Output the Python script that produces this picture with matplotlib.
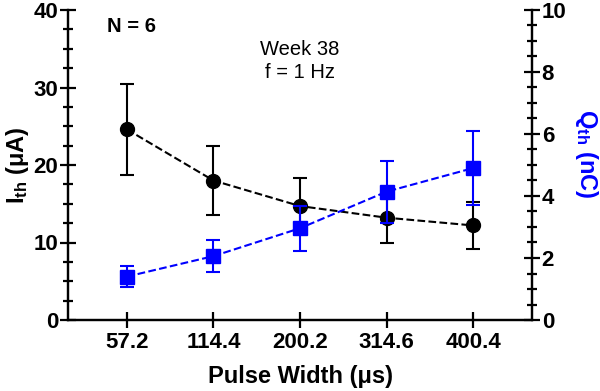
import numpy as np
import matplotlib
matplotlib.use("Agg")
import matplotlib.pyplot as plt
from matplotlib.ticker import MultipleLocator

plt.rcParams['font.family'] = ['Liberation Sans', 'DejaVu Sans']
plt.rcParams['mathtext.fontset'] = 'custom'
plt.rcParams['mathtext.rm'] = 'Liberation Sans'
plt.rcParams['mathtext.bf'] = 'Liberation Sans:bold'

### DATA ###
pulse_widths = ["57.2", "114.4", "200.2", "314.6", "400.4"]

# threshold current (uA), left axis
i_th = [24.6, 18.0, 14.7, 13.2, 12.2]
i_th_err = [5.9, 4.5, 3.6, 3.2, 3.0]

# threshold charge (nC), right axis
q_th = [1.40, 2.06, 2.96, 4.14, 4.90]
q_th_err = [0.34, 0.51, 0.73, 1.0, 1.2]

### FIGURE ###
fig = plt.figure(figsize=(6, 3.91), dpi=100)
ax = fig.add_axes([68 / 600, 71 / 391, 464 / 600, 310 / 391])
ax2 = ax.twinx()

x = np.arange(len(pulse_widths))

ax.errorbar(x, i_th, yerr=i_th_err, fmt='o', color='black', markersize=10,
            elinewidth=1.5, capsize=5, capthick=1.5, zorder=3)
ax.plot(x, i_th, linestyle='--', color='black', linewidth=1.5, zorder=2)

ax2.errorbar(x, q_th, yerr=q_th_err, fmt='s', color='#0000FF', markersize=9.5,
             elinewidth=1.5, capsize=5, capthick=1.5, zorder=3)
ax2.plot(x, q_th, linestyle='--', color='#0000FF', linewidth=1.5, zorder=2)

ax.set_xlim(-0.68, 4.68)
ax.set_ylim(0, 40)
ax2.set_ylim(0, 10)

ax.set_xticks(x)
ax.set_xticklabels(pulse_widths)
ax.yaxis.set_major_locator(MultipleLocator(10))
ax.yaxis.set_minor_locator(MultipleLocator(2.5))
ax2.yaxis.set_major_locator(MultipleLocator(2))
ax2.yaxis.set_minor_locator(MultipleLocator(0.5))

for a in (ax, ax2):
    a.spines['top'].set_visible(False)
    for s in a.spines.values():
        s.set_linewidth(1.6)
    a.tick_params(which='major', direction='inout', length=12, width=1.6,
                  labelsize=16, pad=1)
    a.tick_params(which='minor', direction='inout', length=7, width=1.6)
    for lab in a.get_xticklabels() + a.get_yticklabels():
        lab.set_fontweight('bold')
ax.tick_params(axis='x', pad=3)

ax.set_xlabel('Pulse Width (μs)', fontsize=17, fontweight='bold', labelpad=8)
ax.set_ylabel(r'$\mathbf{I_{th}}$ (μA)', fontsize=17, fontweight='bold', labelpad=2)
ax2.set_ylabel(r'$\mathbf{Q_{th}}$ (nC)', fontsize=17, fontweight='bold',
               color='#0000FF', rotation=270, va='center', ha='center')
ax2.yaxis.set_label_coords(1.118, 0.535)

ax.text(0.084, 0.948, 'N = 6', transform=ax.transAxes, fontsize=14.5,
        fontweight='bold', ha='left', va='center')
ax.text(0.5, 0.835, 'Week 38\nf = 1 Hz', transform=ax.transAxes, fontsize=14.5,
        ha='center', va='center', linespacing=1.3)

fig.savefig('out.png', dpi=100)
